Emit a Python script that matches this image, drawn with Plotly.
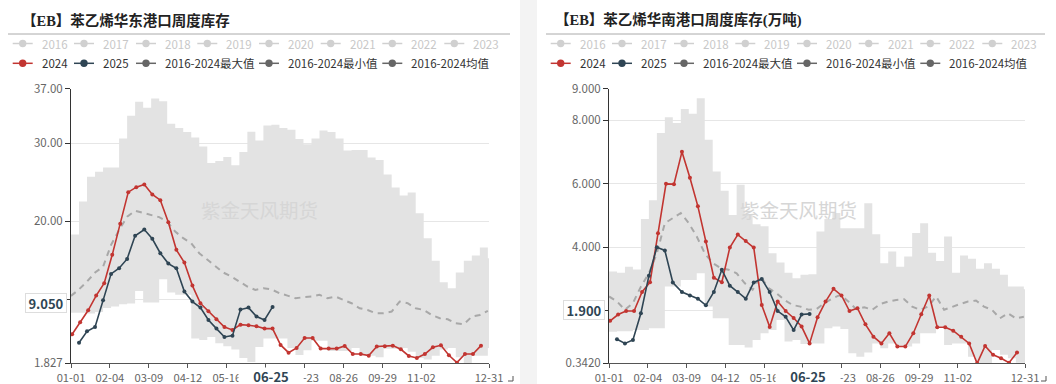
import plotly.graph_objects as go
import pandas as pd

W, H = 1056, 384

# ---------------- data ----------------
# 华东 (left panel)
east_2024 = [5.54, 7.08, 8.62, 10.5, 12.08, 15.72, 19.7, 23.75, 24.39, 24.73, 23.45, 22.72, 19.9,
             16.36, 14.73, 11.78, 9.52, 8.49, 7.47, 6.48, 6.1, 6.78, 6.7, 6.57, 6.27, 6.27, 4.18,
             3.19, 3.79, 5.07, 5.07, 3.71, 3.71, 3.71, 4.05, 3.02, 3.02, 2.81, 3.97, 4.0, 4.09,
             3.62, 2.77, 2.51, 3.02, 3.88, 4.13, 2.85, 1.91, 3.02, 3.02, 4.09]
east_2025 = [4.47, 5.93, 6.48, 9.9, 13.28, 14.0, 15.2, 18.15, 18.96, 17.77, 15.93, 14.6, 14.0,
             11.01, 9.73, 8.96, 7.38, 6.27, 5.2, 5.37, 8.71, 8.96, 7.81, 7.38, 9.05]
east_max = [18.32, 22.55, 25.72, 26.36, 26.9, 26.9, 30.63, 33.54, 35.33, 34.56, 35.76, 35.38, 32.51,
            31.96, 31.44, 30.76, 29.6, 27.47, 27.73, 28.24, 27.21, 28.88, 31.49, 30.38, 32.3, 32.38,
            31.96, 31.74, 30.55, 29.9, 30.63, 31.66, 31.44, 30.63, 29.09, 29.14, 29.14, 28.2, 27.86,
            26.02, 24.35, 23.32, 23.71, 21.06, 17.85, 14.95, 12.21, 11.44, 13.45, 14.95, 15.63,
            16.66, 15.29]
east_min = [8.3, 8.3, 8.2, 8.4, 8.9, 9.1, 9.4, 9.5, 11.1, 9.6, 9.6, 12.6, 10.9, 10.6, 10.6, 5.0,
            4.8, 5.2, 4.4, 4.0, 3.6, 2.5, 2.0, 3.9, 5.0, 5.0, 5.0, 3.8, 2.9, 3.5, 4.7, 4.7, 3.4,
            3.4, 3.4, 3.8, 2.8, 2.8, 2.6, 3.7, 3.7, 3.8, 3.3, 2.5, 2.3, 2.8, 3.6, 3.8, 2.6, 1.83,
            2.8, 2.8, 3.8]
east_avg = [10.46, 11.3, 12.3, 13.45, 14.2, 17.0, 18.9, 20.6, 21.36, 21.06, 20.84, 20.55, 19.99,
            18.7, 17.85, 17.2, 15.93, 15.07, 14.2, 13.45, 12.94, 12.3, 11.66, 11.23, 11.44, 11.3,
            10.8, 10.5, 10.16, 10.29, 10.37, 10.6, 10.16, 10.37, 9.95, 9.52, 8.88, 8.66, 8.24,
            8.24, 8.45, 9.73, 9.52, 8.88, 8.66, 8.02, 7.6, 7.47, 6.95, 6.82, 7.8, 8.02, 8.54]

# 华南 (right panel)
south_2024 = [1.68, 1.88, 1.99, 1.99, 2.59, 2.9, 4.44, 6.0, 5.99, 7.01, 6.19, 5.29, 4.18, 3.04,
              2.9, 3.99, 4.4, 4.2, 3.99, 2.18, 1.49, 2.29, 1.99, 1.77, 1.5, 0.97, 1.79, 2.29, 2.69,
              2.48, 1.99, 2.08, 1.57, 1.18, 0.97, 1.29, 0.87, 0.87, 1.29, 1.89, 2.48, 1.48, 1.48,
              1.37, 1.18, 0.97, 0.34, 0.89, 0.61, 0.5, 0.36, 0.68]
south_2025 = [1.1, 0.97, 1.08, 1.92, 3.1, 4.0, 3.9, 2.89, 2.59, 2.48, 2.38, 2.17, 2.59, 3.29,
              2.79, 2.59, 2.38, 2.89, 3.0, 2.59, 1.99, 1.81, 1.39, 1.88, 1.9]
south_max = [3.24, 3.2, 3.39, 3.3, 4.89, 5.48, 7.6, 8.1, 7.92, 8.36, 8.21, 8.7, 7.39, 6.39, 5.78,
             5.02, 5.97, 5.02, 4.73, 4.66, 3.81, 3.52, 3.2, 3.02, 3.13, 3.15, 4.5, 4.89, 5.08, 4.6,
             4.6, 4.6, 5.39, 4.41, 3.5, 3.87, 3.39, 3.71, 4.45, 4.76, 3.83, 3.57, 4.34, 3.2, 3.74,
             3.64, 3.32, 3.5, 3.32, 3.13, 2.76, 2.76, 2.68]
south_min = [1.34, 1.35, 1.35, 1.39, 1.39, 1.45, 1.45, 2.76, 2.76, 2.97, 2.97, 3.18, 2.13, 1.76,
             1.76, 0.92, 0.92, 0.84, 1.08, 1.29, 1.39, 1.71, 1.03, 1.08, 0.95, 0.97, 0.97, 1.45,
             1.5, 1.42, 0.66, 0.55, 0.68, 0.97, 0.82, 0.97, 0.87, 0.87, 0.97, 1.29, 1.29, 1.5,
             0.92, 0.97, 0.97, 0.55, 0.34, 0.34, 0.76, 0.61, 0.5, 0.36, 0.34]
south_avg = [2.45, 2.29, 2.03, 2.24, 2.76, 3.18, 3.81, 4.76, 4.92, 5.08, 4.76, 4.34, 3.81, 3.5,
             3.34, 3.29, 3.18, 2.87, 2.66, 3.08, 2.71, 2.55, 2.34, 2.18, 2.13, 2.03, 2.05, 2.24,
             2.39, 2.5, 2.29, 2.05, 2.11, 2.03, 2.21, 2.29, 2.34, 2.36, 2.13, 2.03, 2.13, 2.45,
             2.03, 2.13, 2.21, 2.29, 2.32, 2.13, 2.03, 1.76, 1.92, 1.76, 1.81]

titles = ["【EB】苯乙烯华东港口周度库存", "【EB】苯乙烯华南港口周度库存(万吨)"]
legend_row1 = ["2016", "2017", "2018", "2019", "2020", "2021", "2022", "2023"]
legend_row2 = ["2024", "2025", "2016-2024最大值", "2016-2024最小值", "2016-2024均值"]
x_tick_dates = ["01-01", "02-04", "03-09", "04-12", "05-16", "06-19", "07-23", "08-26",
                "09-29", "11-02", "12-31"]
# 06-19 is hidden behind the 06-25 pointer label in the reference
x_tick_labels = ["01-01", "02-04", "03-09", "04-12", "05-16", "", "07-23", "08-26",
                 "09-29", "11-02", "12-31"]
east_y_ticks = [1.827, 10, 20, 30, 37]
east_y_text = ["1.827", "", "20.00", "30.00", "37.00"]
south_y_ticks = [0.342, 2, 4, 6, 8, 9]
south_y_text = ["0.3420", "", "4.000", "6.000", "8.000", "9.000"]
latest_label = "06-25"
east_latest, south_latest = "9.050", "1.900"

# ---------------- x positions (seasonal axis on 2024 calendar) ----------------
def seasonal(dates):
    return ["2024-" + d.strftime("%m-%d") for d in dates]

x_2024 = seasonal(pd.date_range("2024-01-02", periods=len(east_2024), freq="7D"))
x_2025 = seasonal(pd.date_range("2025-01-08", periods=len(east_2025), freq="7D"))
band_dates = pd.date_range("2024-01-01", periods=len(east_max), freq="7D")
x_band = seasonal(band_dates) + ["2024-12-31"]
x_avg = seasonal(band_dates)
x_tickvals = ["2024-" + t for t in x_tick_dates]

RED = "#c23531"
BLUE = "#2f4554"
BAND = "#e3e3e3"
AVG = "#a8a8a8"
TXT = "#666666"
FONT = "Noto Sans CJK SC, Noto Sans, sans-serif"


def px(x):
    return x / W


def py(y):
    return 1 - y / H


fig = go.Figure()

panels = [
    dict(s="", a2024=east_2024, a2025=east_2025, mx=east_max, mn=east_min, avg=east_avg,
         dom=(71, 489), rng=(1.827, 37), tv=east_y_ticks, tt=east_y_text, latest=east_latest,
         latest_v=east_2025[-1], off=0),
    dict(s="2", a2024=south_2024, a2025=south_2025, mx=south_max, mn=south_min, avg=south_avg,
         dom=(609, 1025), rng=(0.342, 9), tv=south_y_ticks, tt=south_y_text, latest=south_latest,
         latest_v=south_2025[-1], off=538),
]

shapes = []
annotations = []

for i, p in enumerate(panels):
    xa, ya = "x" + p["s"], "y" + p["s"]
    mn_ext = p["mn"] + [p["mn"][-1]]
    mx_ext = p["mx"] + [p["mx"][-1]]
    fig.add_trace(go.Scatter(x=x_band, y=mn_ext, mode="lines", line=dict(width=0, shape="hv"),
                             hoverinfo="skip", showlegend=False, xaxis=xa, yaxis=ya))
    fig.add_trace(go.Scatter(x=x_band, y=mx_ext, mode="lines", line=dict(width=0, shape="hv"),
                             fill="tonexty", fillcolor=BAND, hoverinfo="skip", showlegend=False,
                             xaxis=xa, yaxis=ya))
    fig.add_trace(go.Scatter(x=x_avg, y=p["avg"], mode="lines",
                             line=dict(color=AVG, width=2, dash="6px,5px"),
                             showlegend=False, xaxis=xa, yaxis=ya))
    fig.add_trace(go.Scatter(x=x_2024, y=p["a2024"], mode="lines+markers",
                             line=dict(color=RED, width=1.6), marker=dict(size=4, color=RED),
                             showlegend=False, xaxis=xa, yaxis=ya))
    fig.add_trace(go.Scatter(x=x_2025, y=p["a2025"], mode="lines+markers",
                             line=dict(color=BLUE, width=1.6), marker=dict(size=4, color=BLUE),
                             showlegend=False, xaxis=xa, yaxis=ya))

    d0, d1 = p["dom"]
    fig.update_layout(**{
        "xaxis" + p["s"]: dict(
            domain=[px(d0), px(d1)], type="date", range=["2024-01-01", "2024-12-31"],
            tickvals=x_tickvals, ticktext=x_tick_labels, showgrid=False, showline=True,
            linecolor="#555", linewidth=1, ticks="outside", ticklen=4, tickcolor="#555",
            tickfont=dict(size=11.2, color=TXT, family=FONT), anchor=ya, zeroline=False,
            automargin=False),
        "yaxis" + p["s"]: dict(
            domain=[py(363.3), py(88.7)], range=list(p["rng"]), tickvals=p["tv"], ticktext=p["tt"],
            showgrid=True, gridcolor="#e6e6e6", gridwidth=1, showline=True, linecolor="#333",
            linewidth=1, ticks="outside", ticklen=5, tickcolor="#333",
            tickfont=dict(size=11.5, color=TXT, family=FONT), anchor=xa, zeroline=False,
            automargin=False),
    })

    off = p["off"]
    # title
    annotations.append(dict(xref="paper", yref="paper", x=px(20 + (533 if i else 0)), y=py(20.5),
                            xanchor="left", yanchor="middle", showarrow=False,
                            text="<b>" + titles[i] + "</b>",
                            font=dict(size=14.5, color="#222",
                                      family="Liberation Serif, Noto Sans CJK SC, serif")))
    shapes.append(dict(type="line", xref="paper", yref="paper",
                       x0=px(8 + (538 if i else 0)), x1=px(510 + (535 if i else 0)),
                       y0=py(34), y1=py(34), line=dict(color="#aaaaaa", width=1)))
    # legend row 1 (inactive years)
    row1_x = [12.7, 74, 136, 197.3, 259, 320.7, 382.3, 444.3]
    for lbl, sx in zip(legend_row1, row1_x):
        sx = sx + off
        shapes.append(dict(type="line", xref="paper", yref="paper", x0=px(sx), x1=px(sx + 20),
                           y0=py(43.5), y1=py(43.5), line=dict(color="#d0d0d0", width=1.5)))
        shapes.append(dict(type="circle", xref="paper", yref="paper", x0=px(sx + 6.3),
                           x1=px(sx + 13.7), y0=py(47.2), y1=py(39.8),
                           fillcolor="#d0d0d0", line=dict(width=0)))
        annotations.append(dict(xref="paper", yref="paper", x=px(sx + 27), y=py(43.5),
                                xanchor="left", yanchor="middle", showarrow=False, text=lbl,
                                font=dict(size=11.5, color="#c8c8c8", family=FONT)))
    row2_x = [12.7, 74, 136, 259, 382.3]
    row2_c = [RED, BLUE, "#666666", "#666666", "#666666"]
    for lbl, sx, c in zip(legend_row2, row2_x, row2_c):
        sx = sx + off
        shapes.append(dict(type="line", xref="paper", yref="paper", x0=px(sx), x1=px(sx + 20),
                           y0=py(63.3), y1=py(63.3), line=dict(color=c, width=1.5)))
        shapes.append(dict(type="circle", xref="paper", yref="paper", x0=px(sx + 6.3),
                           x1=px(sx + 13.7), y0=py(67), y1=py(59.6),
                           fillcolor=c, line=dict(width=0)))
        annotations.append(dict(xref="paper", yref="paper", x=px(sx + 27), y=py(63.3),
                                xanchor="left", yanchor="middle", showarrow=False, text=lbl,
                                font=dict(size=11.5, color="#333", family=FONT)))
    # watermark
    annotations.append(dict(xref="paper", yref="paper", x=px(259 + (539 if i else 0)), y=py(209),
                            xanchor="center", yanchor="middle", showarrow=False,
                            text="紫金天风期货", font=dict(size=19.5, color="#d6d6d6", family=FONT)))
    # axis-pointer labels
    annotations.append(dict(xref=xa, yref="paper", x="2024-06-24", y=py(375.5),
                            xanchor="center", yanchor="middle", showarrow=False,
                            text="<b>" + latest_label + "</b>", width=64, height=16,
                            bgcolor="white", borderpad=0,
                            font=dict(size=13, color=BLUE, family=FONT)))
    annotations.append(dict(xref="paper", yref=ya, x=px(d0 - 4), y=p["latest_v"],
                            xanchor="right", yanchor="middle", yshift=4, showarrow=False,
                            text="<b>" + p["latest"] + "</b>", width=38, height=16,
                            bgcolor="white", bordercolor="#dddddd", borderwidth=1, borderpad=1,
                            font=dict(size=13, color=BLUE, family=FONT)))

# separator stripe between the two panels and corner marks
shapes.append(dict(type="rect", xref="paper", yref="paper", x0=px(520), x1=px(537), y0=0, y1=1,
                   fillcolor="#f3f3f3", line=dict(width=0), layer="below"))
for cx in (513, 1046):
    shapes.append(dict(type="path", xref="paper", yref="paper",
                       path=f"M {px(cx)} {py(376)} L {px(cx)} {py(381)} L {px(cx-5)} {py(381)}",
                       line=dict(color="#555", width=1)))

fig.update_layout(
    width=W, height=H, margin=dict(l=0, r=0, t=0, b=0, pad=0), paper_bgcolor="white",
    plot_bgcolor="white", showlegend=False, shapes=shapes, annotations=annotations,
    font=dict(family=FONT, size=11.5, color=TXT), hovermode=False,
)

fig.write_html("out.html", config={"displayModeBar": False, "staticPlot": True},
               post_script="document.body.style.margin='0';document.body.style.overflow='hidden';")
